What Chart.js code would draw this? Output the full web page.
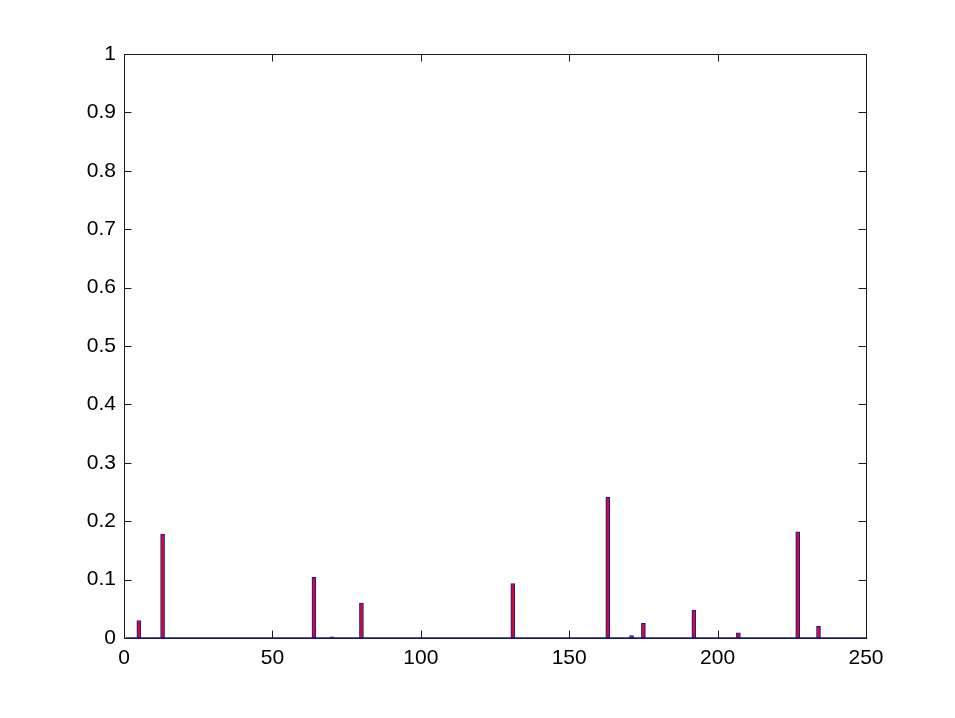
<!DOCTYPE html>
<html>
<head>
<meta charset="utf-8">
<script src="https://cdn.jsdelivr.net/npm/chart.js@4/dist/chart.umd.min.js"></script>
<style>
  html, body { margin: 0; padding: 0; background: #fff; }
  #wrap { width: 955px; height: 718px; position: relative; }
</style>
</head>
<body>
<div id="wrap"><canvas id="c" width="955" height="718"></canvas></div>
<script>
// ---- data ----
const xCount = 250;                       // bars at x = 1..250 (most are zero)
const peakX = [5, 13, 64, 70, 80, 131, 163, 171, 175, 192, 207, 227, 234];
const peakY = [0.030, 0.178, 0.104, 0.002, 0.060, 0.093, 0.241, 0.004, 0.025, 0.048, 0.009, 0.182, 0.020];
const xTicks = [0, 50, 100, 150, 200, 250];
const yTicks = [0, 0.1, 0.2, 0.3, 0.4, 0.5, 0.6, 0.7, 0.8, 0.9, 1];
const yTickLabels = ['0', '0.1', '0.2', '0.3', '0.4', '0.5', '0.6', '0.7', '0.8', '0.9', '1'];

// full bar table built from the arrays above
const points = [];
for (let i = 1; i <= xCount; i++) {
  const k = peakX.indexOf(i);
  points.push({ x: i, y: k >= 0 ? peakY[k] : 0 });
}

const FONT = "'Liberation Sans', Arial, Helvetica, sans-serif";
const AXIS = '#1a1a1a';

const matlabAxes = {
  id: 'matlabAxes',
  afterDatasetsDraw(chart) {
    const { ctx, chartArea: a, scales: { x, y } } = chart;
    ctx.save();
    // box
    ctx.strokeStyle = AXIS;
    ctx.lineWidth = 1;
    ctx.strokeRect(Math.round(a.left) + 0.5, Math.round(a.top) + 0.5,
                   Math.round(a.right - a.left), Math.round(a.bottom - a.top));
    // baseline formed by zero-height bars
    ctx.strokeStyle = '#1a1a78';
    ctx.lineWidth = 1.6;
    ctx.beginPath();
    ctx.moveTo(x.getPixelForValue(0.6), y.getPixelForValue(0));
    ctx.lineTo(x.getPixelForValue(xCount + 0.4), y.getPixelForValue(0));
    ctx.stroke();
    // inward ticks
    ctx.strokeStyle = AXIS;
    ctx.lineWidth = 1;
    const tl = 7.5;
    ctx.beginPath();
    xTicks.forEach(v => {
      const px = Math.round(x.getPixelForValue(v)) + 0.5;
      ctx.moveTo(px, a.bottom); ctx.lineTo(px, a.bottom - tl);
      ctx.moveTo(px, a.top); ctx.lineTo(px, a.top + tl);
    });
    yTicks.forEach(v => {
      const py = Math.round(y.getPixelForValue(v)) + 0.5;
      ctx.moveTo(a.left, py); ctx.lineTo(a.left + tl, py);
      ctx.moveTo(a.right, py); ctx.lineTo(a.right - tl, py);
    });
    ctx.stroke();
    ctx.restore();
  }
};

new Chart(document.getElementById('c'), {
  type: 'bar',
  data: {
    datasets: [{
      data: points,
      backgroundColor: '#c8102e',
      borderColor: '#1414a8',
      borderWidth: 1,
      borderSkipped: false,
      barThickness: 4
    }]
  },
  options: {
    responsive: false,
    animation: false,
    devicePixelRatio: 1,
    layout: { padding: { left: 0, right: 89, top: 54, bottom: 20 } },
    plugins: { legend: { display: false }, tooltip: { enabled: false } },
    scales: {
      x: {
        type: 'linear',
        min: 0, max: 250,
        offset: false,
        afterBuildTicks: s => { s.ticks = xTicks.map(v => ({ value: v })); },
        afterFit: s => { s.height = 60; },
        grid: { display: false, drawTicks: false, offset: false },
        border: { display: false },
        ticks: {
          color: '#000', padding: 8, maxRotation: 0, autoSkip: false,
          font: { family: FONT, size: 21 },
          callback: v => String(v)
        }
      },
      y: {
        type: 'linear',
        min: 0, max: 1,
        afterBuildTicks: s => { s.ticks = yTicks.map(v => ({ value: v })); },
        afterFit: s => { s.width = 124; },
        grid: { display: false, drawTicks: false },
        border: { display: false },
        ticks: {
          color: '#000', padding: 8, autoSkip: false,
          font: { family: FONT, size: 21 },
          callback: (v, i) => yTickLabels[i]
        }
      }
    }
  },
  plugins: [matlabAxes]
});
</script>
</body>
</html>
